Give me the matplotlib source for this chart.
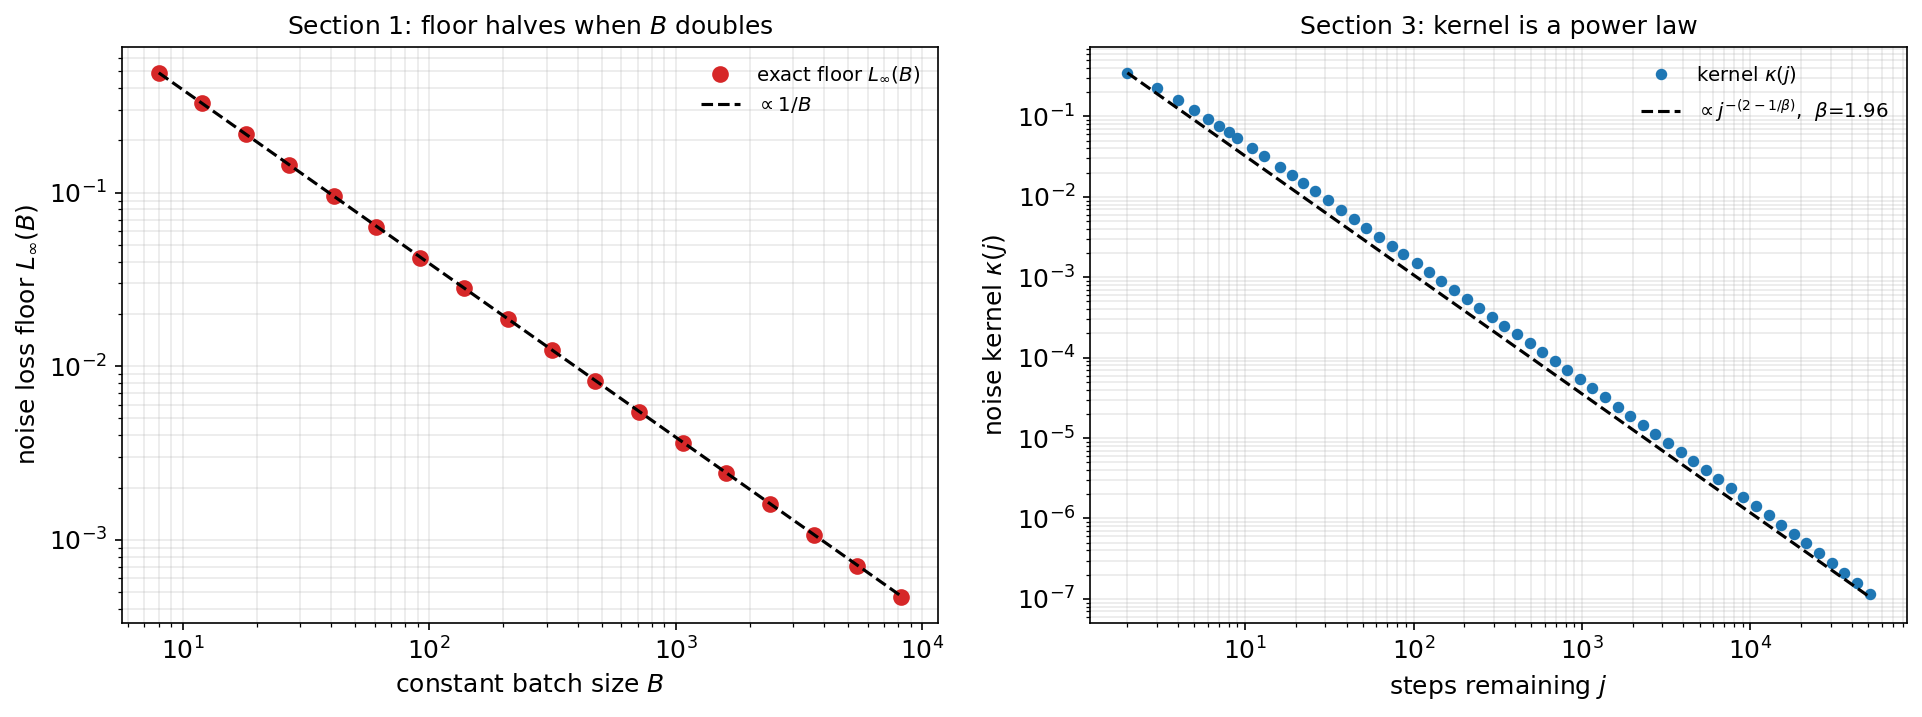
import matplotlib
matplotlib.use("Agg")
import matplotlib.pyplot as plt

# Section 1 data: batch size vs noise loss floor
batch_sizes = [8, 12, 18, 27, 41, 61, 92, 139, 209, 314, 472, 709, 1066, 1602, 2409, 3622, 5446, 8192]
floor_vals = [0.490, 0.329, 0.217, 0.145, 0.0957, 0.0634, 0.0422, 0.0282, 0.01876, 0.01239,
              0.0082, 0.00546, 0.0036, 0.00242, 0.00161, 0.00106, 0.000705, 0.000469]
ref1_B = [8, 8192]
ref1_L = [0.490, 0.000475]

# Section 3 data: steps remaining vs kernel
steps = [2, 3, 4, 5, 6, 7, 8, 9, 11, 13, 16, 19, 22, 26, 31, 37, 44, 52, 62, 74, 86, 105, 124,
         146, 174, 208, 244, 292, 346, 410, 491, 582, 689, 815, 973, 1147, 1371, 1638, 1929,
         2303, 2728, 3243, 3875, 4565, 5452, 6422, 7675, 9041, 10799, 12898, 15195, 18149,
         21382, 25450, 30539, 35979, 42788, 50888]
kernel_log10 = [-0.4575, -0.645, -0.795, -0.92, -1.033, -1.12, -1.195, -1.27, -1.395, -1.495,
                -1.633, -1.733, -1.833, -1.933, -2.045, -2.158, -2.27, -2.383, -2.495, -2.608,
                -2.708, -2.82, -2.933, -3.045, -3.158, -3.27, -3.383, -3.495, -3.608, -3.708,
                -3.82, -3.933, -4.045, -4.158, -4.27, -4.383, -4.495, -4.608, -4.72, -4.833,
                -4.945, -5.058, -5.17, -5.279, -5.391, -5.504, -5.616, -5.729, -5.841, -5.954,
                -6.079, -6.191, -6.304, -6.429, -6.55, -6.679, -6.804, -6.933]
kernel_vals = [10 ** v for v in kernel_log10]
ref3_j = [2, 50888]
ref3_k = [0.349, 1.06e-7]

fig, (ax1, ax2) = plt.subplots(1, 2, figsize=(1922 / 150, 717 / 150), dpi=150)
fig.subplots_adjust(left=0.0633, right=0.992, top=0.935, bottom=0.131, wspace=0.1865)

ax1.loglog(batch_sizes, floor_vals, 'o', color='#d62728', ms=7, label=r'exact floor $L_\infty(B)$')
ax1.loglog(ref1_B, ref1_L, '--', color='black', lw=1.5, label=r'$\propto 1/B$')
ax1.set_xlabel(r'constant batch size $B$', fontsize=12)
ax1.set_ylabel(r'noise loss floor $L_\infty(B)$', fontsize=12)
ax1.set_title(r'Section 1: floor halves when $B$ doubles', fontsize=12)
ax1.grid(True, which='both', alpha=0.27)
ax1.legend(frameon=False, fontsize=9.5, loc='upper right')

ax2.loglog(steps, kernel_vals, 'o', color='#1f77b4', ms=4.5, label=r'kernel $\kappa(j)$')
ax2.loglog(ref3_j, ref3_k, '--', color='black', lw=1.5,
           label=r'$\propto j^{-(2-1/\beta)}$,  $\beta$=1.96')
ax2.set_xlabel(r'steps remaining $j$', fontsize=12)
ax2.set_ylabel(r'noise kernel $\kappa(j)$', fontsize=12)
ax2.set_title('Section 3: kernel is a power law', fontsize=12)
ax2.grid(True, which='both', alpha=0.27)
ax2.legend(frameon=False, fontsize=9.5, loc='upper right')

for ax in (ax1, ax2):
    ax.tick_params(labelsize=12)

fig.savefig('out.png', dpi=150)
